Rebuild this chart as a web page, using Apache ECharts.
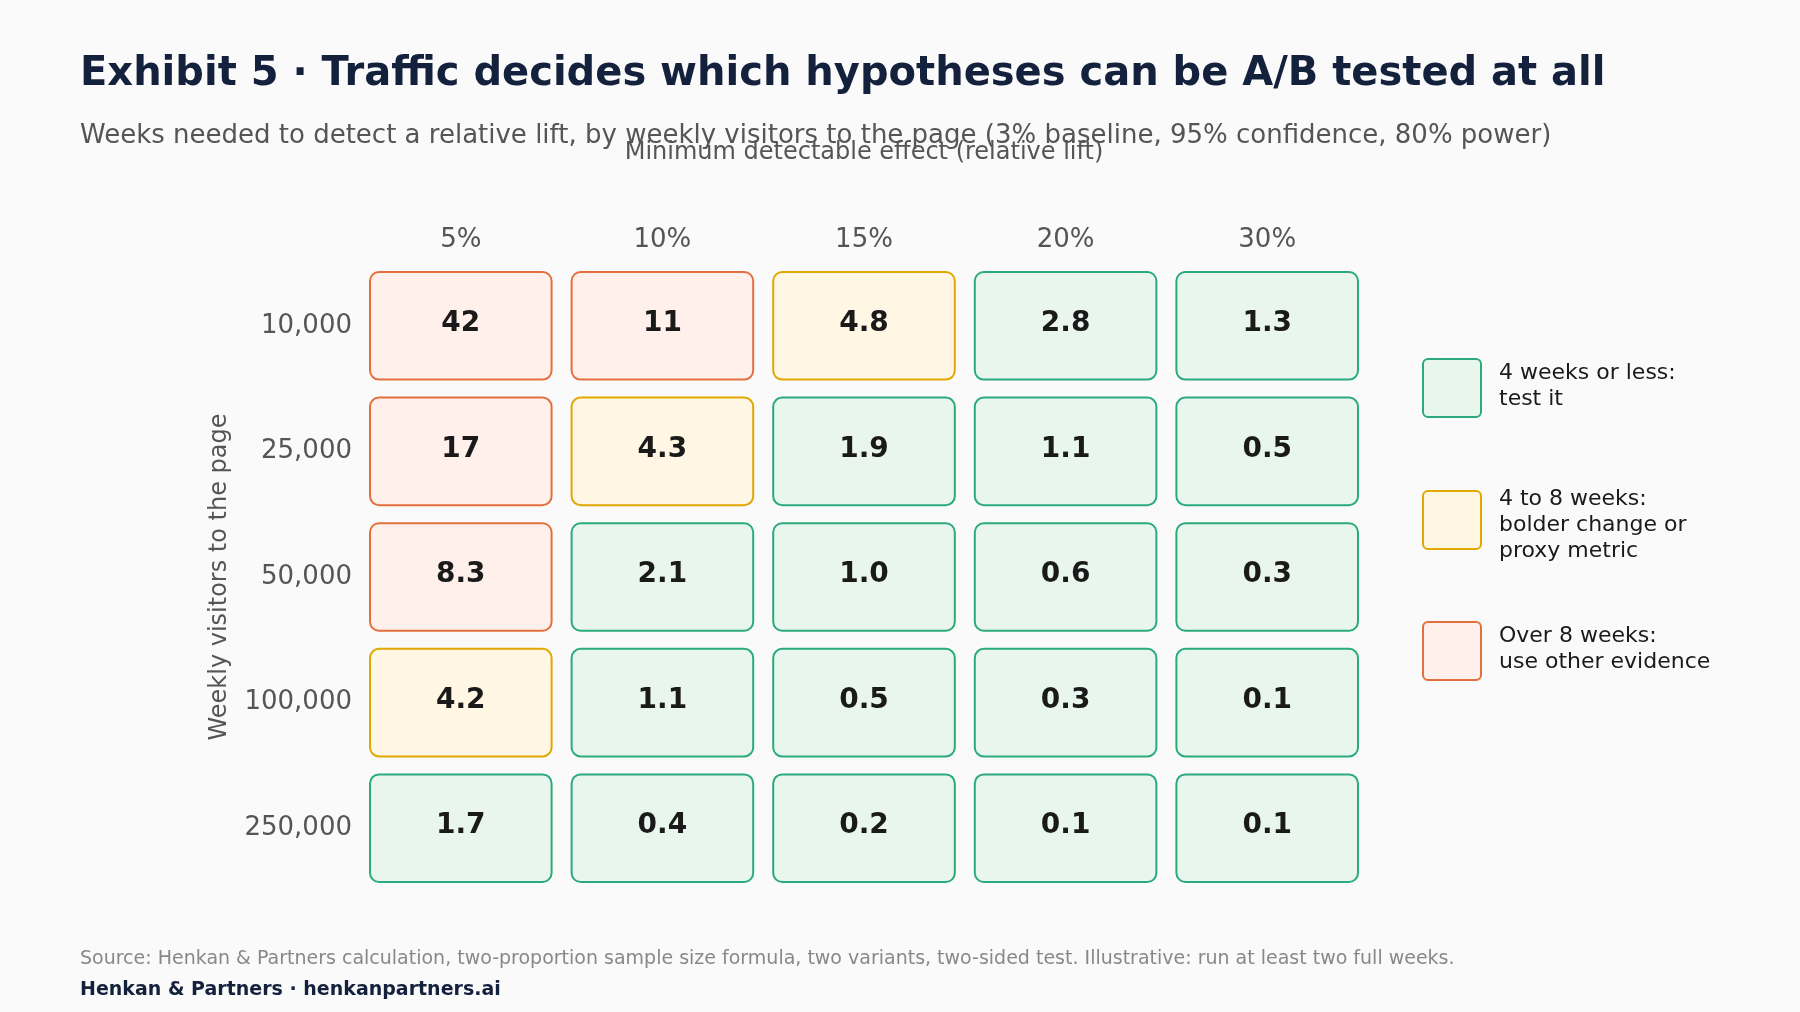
<!doctype html>
<html lang="en">
<head>
<meta charset="UTF-8">
<title>Exhibit 5</title>
<script src="https://cdn.jsdelivr.net/npm/echarts@6/dist/echarts.min.js"></script>
<style>
  html, body { margin: 0; padding: 0; background: #FAFAFA; }
  #chart { width: 1800px; height: 1012px; }
</style>
</head>
<body>
<div id="chart"></div>
<script>
var effects = ['5%', '10%', '15%', '20%', '30%'];
var visitors = ['10,000', '25,000', '50,000', '100,000', '250,000'];
// weeks needed, one row per visitor level
var weeks10k = [42, 11, 4.8, 2.8, 1.3];
var weeks25k = [17, 4.3, 1.9, 1.1, 0.5];
var weeks50k = [8.3, 2.1, 1.0, 0.6, 0.3];
var weeks100k = [4.2, 1.1, 0.5, 0.3, 0.1];
var weeks250k = [1.7, 0.4, 0.2, 0.1, 0.1];
var legendLabels = ['4 weeks or less:\ntest it', '4 to 8 weeks:\nbolder change or\nproxy metric', 'Over 8 weeks:\nuse other evidence'];

var styles = [
  { fill: '#E8F6EE', stroke: '#2BAA7E' },
  { fill: '#FFF6E3', stroke: '#E0A800' },
  { fill: '#FFF0EB', stroke: '#E2703F' }
];
function band(v) { return v <= 4 ? 0 : (v <= 8 ? 1 : 2); }

var rows = [weeks10k, weeks25k, weeks50k, weeks100k, weeks250k];
var data = [];
rows.forEach(function (r, yi) {
  r.forEach(function (v, xi) { data.push([xi, yi, v]); });
});

var chart = echarts.init(document.getElementById('chart'));
var font = 'DejaVu Sans';

var legendGraphics = [];
legendLabels.forEach(function (t, i) {
  var cy = [387, 519, 650][i];
  legendGraphics.push({
    type: 'rect', left: 1422, top: cy - 29,
    shape: { width: 58, height: 58, r: 5 },
    style: { fill: styles[i].fill, stroke: styles[i].stroke, lineWidth: 2 }
  });
  legendGraphics.push({
    type: 'text', left: 1499, top: cy - 29 + (i === 1 ? -4 : 2),
    style: { text: t, font: '22px ' + font, fill: '#1a1a1a', lineHeight: 26 }
  });
});

chart.setOption({
  backgroundColor: '#FAFAFA',
  textStyle: { fontFamily: font },
  title: [
    { text: 'Exhibit 5 · Traffic decides which hypotheses can be A/B tested at all', left: 80, top: 55, padding: 0,
      textStyle: { fontSize: 40, fontWeight: 'bold', color: '#14213D', fontFamily: font } },
    { text: 'Weeks needed to detect a relative lift, by weekly visitors to the page (3% baseline, 95% confidence, 80% power)', left: 80, top: 123, padding: 0,
      textStyle: { fontSize: 26, fontWeight: 'normal', color: '#555', fontFamily: font } },
    { text: 'Source: Henkan & Partners calculation, two-proportion sample size formula, two variants, two-sided test. Illustrative: run at least two full weeks.', left: 80, top: 950, padding: 0,
      textStyle: { fontSize: 19, fontWeight: 'normal', color: '#888', fontFamily: font } },
    { text: 'Henkan & Partners · henkanpartners.ai', left: 80, top: 981, padding: 0,
      textStyle: { fontSize: 19, fontWeight: 'bold', color: '#14213D', fontFamily: font } }
  ],
  grid: { left: 360, right: 432, top: 263, bottom: 121 },
  xAxis: {
    type: 'category', data: effects, position: 'top',
    name: 'Minimum detectable effect (relative lift)', nameLocation: 'middle', nameGap: 98,
    nameTextStyle: { fontSize: 24, color: '#555' },
    axisLine: { show: false }, axisTick: { show: false },
    axisLabel: { fontSize: 26, color: '#555', margin: 10 }
  },
  yAxis: {
    type: 'category', data: visitors, inverse: true,
    name: 'Weekly visitors to the page', nameLocation: 'middle', nameGap: 128,
    nameTextStyle: { fontSize: 24, color: '#555' },
    axisLine: { show: false }, axisTick: { show: false },
    axisLabel: { fontSize: 26, color: '#555', margin: 8 }
  },
  series: [{
    type: 'custom',
    data: data,
    renderItem: function (params, api) {
      var c = api.coord([api.value(0), api.value(1)]);
      var s = api.size([1, 1]);
      var w = s[0] - 20, h = s[1] - 18;
      var v = api.value(2);
      var st = styles[band(v)];
      return {
        type: 'group',
        children: [{
          type: 'rect',
          shape: { x: c[0] - w / 2, y: c[1] - h / 2, width: w, height: h, r: 9 },
          style: { fill: st.fill, stroke: st.stroke, lineWidth: 2 }
        }, {
          type: 'text',
          style: { x: c[0], y: c[1] - 2, text: v.toFixed(v >= 10 ? 0 : 1), align: 'center', verticalAlign: 'middle',
            font: 'bold 28px ' + font, fill: '#1a1a1a' }
        }]
      };
    }
  }],
  graphic: legendGraphics
});
</script>
</body>
</html>
